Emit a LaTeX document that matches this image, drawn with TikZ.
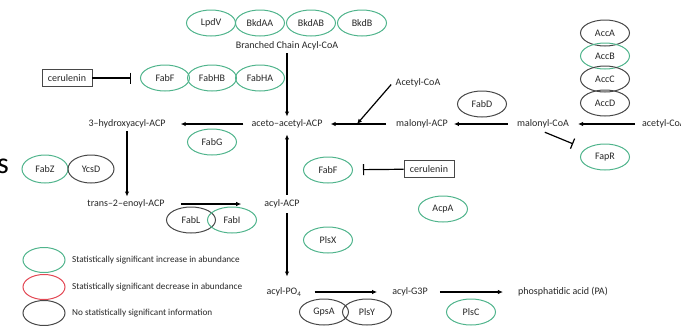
\documentclass[tikz,border=0pt]{standalone}
\usepackage{fontspec}
\setmainfont{Carlito}
\usetikzlibrary{arrows.meta,shapes.geometric}
\definecolor{upgreen}{RGB}{80,180,140}
\definecolor{downred}{RGB}{226,72,84}
\definecolor{nochange}{RGB}{72,72,72}
\tikzset{
  enzyme/.style={ellipse,draw,line width=1pt,minimum width=49pt,minimum height=26pt,inner sep=0pt,text=black!85,font=\fontsize{10}{11}\selectfont},
  upreg/.style={enzyme,draw=upgreen},
  downreg/.style={enzyme,draw=downred},
  nosig/.style={enzyme,draw=nochange},
  metab/.style={inner sep=3pt,text=black!85,font=\fontsize{10}{11}\selectfont},
  drugbox/.style={draw=nochange,line width=0.9pt,minimum width=50pt,minimum height=17pt,inner sep=0pt,text=black!85,font=\fontsize{10}{11}\selectfont},
  legtext/.style={anchor=west,inner sep=0pt,text=black!85,font=\fontsize{9.2}{10}\selectfont},
  conv/.style={->,line width=1.2pt},
  inhib/.style={-{Bar[width=11pt,line width=1.2pt]},line width=1.2pt},
}
\begin{document}
\begin{tikzpicture}[x=1pt,y=-1pt,>={Latex[length=5pt,width=4.5pt]}]
  \clip (0,0) rectangle (681,325);
  % letter cut off at the slide edge
  \node[inner sep=0pt,font=\fontsize{30}{30}\selectfont] (slide) at (3,166) {s};
  % branched chain start
  \node[upreg] (lpdv) at (211,23) {LpdV};
  \node[upreg] (bkdaa) at (260,23) {BkdAA};
  \node[upreg] (bkdab) at (311,23) {BkdAB};
  \node[upreg] (bkdb) at (362,23) {BkdB};
  \node[metab] (branched) at (287,46) {Branched Chain Acyl-CoA};
  % elongation cycle
  \node[drugbox] (cer1) at (67,78) {cerulenin};
  \node[upreg] (fabF1) at (165,78) {FabF};
  \node[upreg] (fabHB) at (212,78) {FabHB};
  \node[upreg] (fabHA) at (260,78) {FabHA};
  \node[metab] (aceto) at (287,124) {aceto–acetyl-ACP};
  \node[metab] (hydroxy) at (127,124) {3–hydroxyacyl-ACP};
  \node[upreg] (fabG) at (212,142) {FabG};
  \node[upreg,minimum width=46pt,minimum height=28pt] (fabZ) at (45,169) {FabZ};
  \node[nosig,minimum width=46pt,minimum height=28pt] (ycsD) at (91,169) {YcsD};
  \node[metab] (enoyl) at (126,204) {trans–2–enoyl-ACP};
  \node[nosig] (fabL) at (191,220) {FabL};
  \node[upreg] (fabI) at (232,220) {FabI};
  \node[metab] (acylacp) at (282,204) {acyl-ACP};
  \node[upreg] (fabF2) at (328,170) {FabF};
  \node[drugbox] (cer2) at (429,169) {cerulenin};
  \node[upreg] (acpA) at (443,209) {AcpA};
  \node[upreg] (plsX) at (328,240) {PlsX};
  % malonyl branch
  \node[metab] (malacp) at (422,124) {malonyl-ACP};
  \node[metab] (acetylcoa) at (418,83) {Acetyl-CoA};
  \node[nosig] (fabD) at (482,104) {FabD};
  \node[metab] (malcoa) at (543,124) {malonyl-CoA};
  \node[metab,anchor=west] (acoa) at (639,124) {acetyl-CoA};
  \node[nosig] (accA) at (605,33) {AccA};
  \node[upreg] (accB) at (605,56) {AccB};
  \node[nosig] (accC) at (605,79) {AccC};
  \node[nosig] (accD) at (605,103) {AccD};
  \node[upreg] (fapR) at (605,157) {FapR};
  % phospholipid end
  \node[metab] (acylpo) at (284,292) {acyl-PO\textsubscript{4}};
  \node[metab] (acylg3p) at (410,292) {acyl-G3P};
  \node[metab] (pa) at (563,292) {phosphatidic acid (PA)};
  \node[nosig] (gpsA) at (324,312) {GpsA};
  \node[nosig] (plsY) at (367,312) {PlsY};
  \node[upreg] (plsC) at (471,312) {PlsC};
  % legend
  \node[upreg,minimum width=42pt,minimum height=25pt] (keyup) at (44,260) {};
  \node[downreg,minimum width=42pt,minimum height=25pt] (keydown) at (44,287) {};
  \node[nosig,minimum width=42pt,minimum height=25pt] (keyno) at (44,313) {};
  \node[legtext] (keyuptext) at (72,260) {Statistically significant increase in abundance};
  \node[legtext] (keydowntext) at (72,287) {Statistically significant decrease in abundance};
  \node[legtext] (keynotext) at (72,313) {No statistically significant information};
  % connectors
  \draw[conv] (branched) -- (aceto);
  \draw[conv,shorten <=5pt,shorten >=12pt] (aceto) -- (hydroxy);
  \draw[conv] (hydroxy.south) -- (hydroxy.south |- enoyl.north);
  \draw[conv,shorten <=13pt,shorten >=20pt] (enoyl) -- (acylacp);
  \draw[conv,shorten <=2pt,shorten >=3pt] (acylacp.north -| aceto) -- (aceto);
  \draw[conv,shorten <=2pt,shorten >=8pt] (acylacp.south -| aceto) -- (acylpo.north -| aceto);
  \draw[conv,shorten <=10pt,shorten >=12pt] (acylpo) -- (acylg3p);
  \draw[conv,shorten <=9pt,shorten >=12pt] (acylg3p) -- (pa);
  \draw[conv,shorten <=7pt,shorten >=5pt] (malacp) -- (aceto);
  \coordinate (join) at (357,124);
  \draw[conv,shorten <=2pt] (acetylcoa.west) -- (join);
  \draw[conv,shorten <=6pt,shorten >=3pt] (malcoa) -- (malacp);
  \draw[conv,shorten <=4pt,shorten >=6pt] (acoa) -- (malcoa);
  \draw[inhib,shorten >=9pt] (cer1) -- (fabF1);
  \draw[inhib,shorten >=10pt] (cer2) -- (fabF2);
  \draw[inhib,shorten <=2pt,shorten >=13pt] (malcoa.south) -- (fapR);
\end{tikzpicture}
\end{document}
